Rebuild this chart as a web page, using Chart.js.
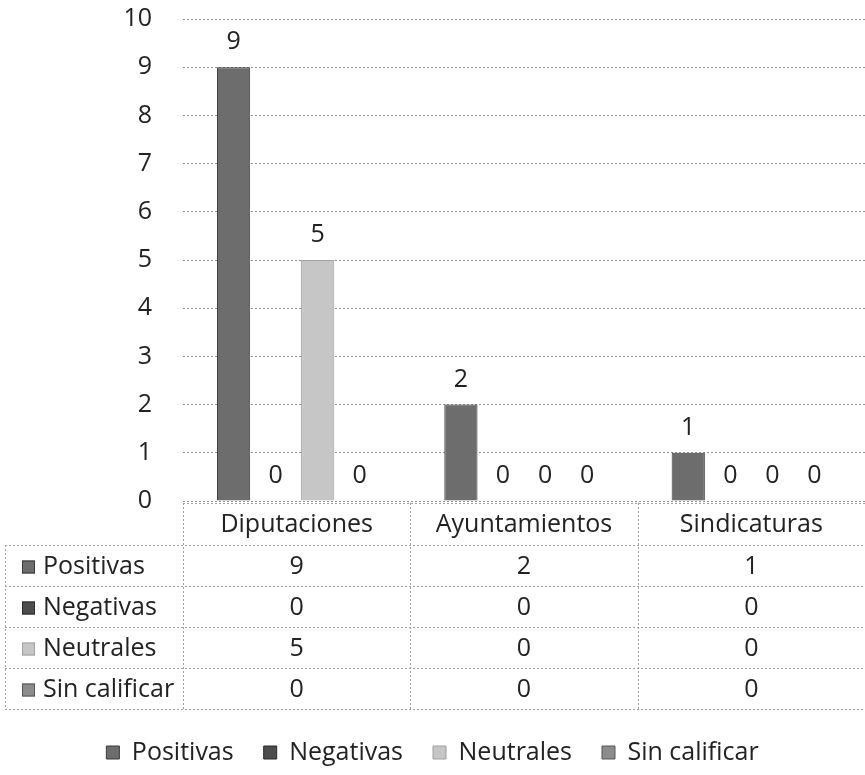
<!DOCTYPE html>
<html>
<head>
<meta charset="utf-8">
<script src="https://cdn.jsdelivr.net/npm/chart.js@4/dist/chart.umd.min.js"></script>
<style>
  body { margin: 0; background: #fff; }
  #wrap { width: 865px; height: 775px; }
</style>
</head>
<body>
<div id="wrap"><canvas id="chart" width="865" height="775"></canvas></div>
<script>
// data
const categories = ['Diputaciones', 'Ayuntamientos', 'Sindicaturas'];
const seriesNames = ['Positivas', 'Negativas', 'Neutrales', 'Sin calificar'];
const positivas = [9, 2, 1];
const negativas = [0, 0, 0];
const neutrales = [5, 0, 0];
const sinCalificar = [0, 0, 0];
const yTicks = [0, 1, 2, 3, 4, 5, 6, 7, 8, 9, 10];

const seriesValues = [positivas, negativas, neutrales, sinCalificar];
const fills = ['#6d6d6d', '#4d4d4d', '#c6c6c6', '#8c8c8c'];
const edges = ['#3a3a3a', '#2a2a2a', '#a0a0a0', '#555555'];

const FONT = '"Open Sans", "Noto Sans", sans-serif';
const FS = 25;
const TEXT = '#222222';
const ROW_H = 41;
const HEAD_H = 42;

// value labels above each bar
const valueLabels = {
  id: 'valueLabels',
  afterDatasetsDraw(chart) {
    const ctx = chart.ctx;
    ctx.save();
    ctx.font = FS + 'px ' + FONT;
    ctx.fillStyle = TEXT;
    ctx.textAlign = 'center';
    ctx.textBaseline = 'middle';
    chart.data.datasets.forEach((ds, i) => {
      chart.getDatasetMeta(i).data.forEach((bar, j) => {
        ctx.fillText(String(ds.data[j]), bar.x, bar.y - 25);
      });
    });
    ctx.restore();
  }
};

// data table under the plot
const dataTable = {
  id: 'dataTable',
  afterDraw(chart) {
    const ctx = chart.ctx;
    const xs = chart.scales.x;
    const area = chart.chartArea;
    const top = area.bottom + 2;
    const left = 5;
    const catW = (area.right - area.left) / categories.length;
    const rowsTop = top + HEAD_H;
    const bottom = rowsTop + ROW_H * seriesNames.length;

    ctx.save();
    ctx.strokeStyle = '#a0a0a0';
    ctx.lineWidth = 1;
    ctx.setLineDash([2, 2]);
    ctx.beginPath();
    ctx.moveTo(area.left, top + 0.5);
    ctx.lineTo(area.right, top + 0.5);
    for (let r = 0; r <= seriesNames.length; r++) {
      const y = Math.round(rowsTop + r * ROW_H) + 0.5;
      ctx.moveTo(left, y);
      ctx.lineTo(area.right, y);
    }
    for (let c = 0; c < categories.length; c++) {
      const x = Math.round(xs.getPixelForValue(c) - catW / 2) + 0.5;
      ctx.moveTo(x, top);
      ctx.lineTo(x, bottom);
    }
    ctx.moveTo(left + 0.5, rowsTop);
    ctx.lineTo(left + 0.5, bottom);
    ctx.stroke();
    ctx.setLineDash([]);

    ctx.font = FS + 'px ' + FONT;
    ctx.fillStyle = TEXT;
    ctx.textBaseline = 'middle';
    ctx.textAlign = 'center';
    categories.forEach((cat, c) => {
      ctx.fillText(cat, xs.getPixelForValue(c), top + HEAD_H / 2 + 1);
    });
    seriesNames.forEach((name, r) => {
      const cy = rowsTop + r * ROW_H + ROW_H / 2 + 1;
      ctx.fillStyle = fills[r];
      ctx.fillRect(22, cy - 6, 13, 13);
      ctx.strokeStyle = edges[r];
      ctx.strokeRect(22.5, cy - 5.5, 12, 12);
      ctx.fillStyle = TEXT;
      ctx.textAlign = 'left';
      ctx.fillText(name, 43, cy);
      ctx.textAlign = 'center';
      seriesValues[r].forEach((v, c) => {
        ctx.fillText(String(v), xs.getPixelForValue(c), cy);
      });
    });
    ctx.restore();
  }
};

const ctx1 = document.getElementById('chart').getContext('2d');
const chart = new Chart(ctx1, {
  type: 'bar',
  data: {
    labels: categories,
    datasets: seriesNames.map((name, i) => ({
      label: name,
      data: seriesValues[i],
      backgroundColor: fills[i],
      borderColor: edges[i],
      borderWidth: 1,
      categoryPercentage: 0.74,
      barPercentage: 0.79
    }))
  },
  options: {
    responsive: false,
    animation: false,
    layout: { padding: { top: 0, right: 0, left: 0, bottom: 0 } },
    scales: {
      x: {
        grid: { display: false },
        border: { display: false },
        ticks: { display: false },
        afterFit(scale) { scale.height = 209; }
      },
      y: {
        min: 0,
        max: 10,
        afterBuildTicks(scale) { scale.ticks = yTicks.map(v => ({ value: v })); },
        afterFit(scale) { scale.width = 183; },
        border: { display: false, dash: [2, 2] },
        grid: {
          color: '#8f8f8f',
          lineWidth: 1,
          drawTicks: true,
          tickLength: 27,
          tickColor: 'rgba(0,0,0,0)'
        },
        ticks: {
          padding: 4,
          color: TEXT,
          font: { size: FS, family: FONT }
        }
      }
    },
    plugins: {
      legend: {
        position: 'bottom',
        labels: {
          color: TEXT,
          font: { size: FS, family: FONT },
          boxWidth: 13,
          boxHeight: 13,
          padding: 30
        }
      },
      tooltip: { enabled: false }
    }
  },
  plugins: [valueLabels, dataTable]
});
</script>
</body>
</html>
